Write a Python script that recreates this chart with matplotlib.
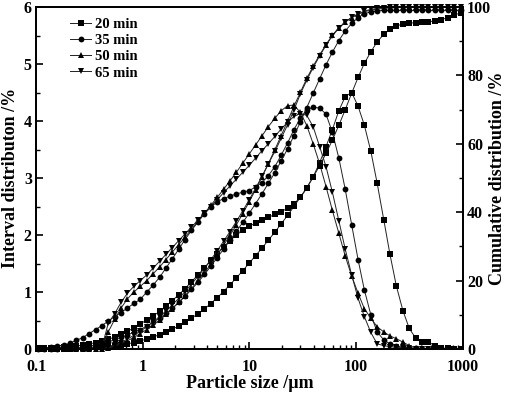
import matplotlib
matplotlib.use("Agg")
import matplotlib.pyplot as plt
from matplotlib.ticker import FixedLocator, MultipleLocator, LogLocator, NullFormatter

plt.rcParams['font.family'] = ['Liberation Serif', 'DejaVu Serif']
plt.rcParams['font.weight'] = 'bold'

# particle size classes (um)
sizes = [0.104, 0.119, 0.137, 0.157, 0.181, 0.207, 0.238, 0.274, 0.314, 0.361,
         0.414, 0.475, 0.546, 0.627, 0.719, 0.826, 0.948, 1.09, 1.25, 1.44,
         1.65, 1.89, 2.17, 2.49, 2.86, 3.29, 3.78, 4.34, 4.98, 5.71,
         6.56, 7.53, 8.65, 9.93, 11.4, 13.1, 15.0, 17.3, 19.8, 22.8,
         26.1, 30.0, 34.4, 39.5, 45.4, 52.1, 59.8, 68.7, 78.9, 90.6,
         104, 119, 137, 157, 181, 207, 238, 274, 314, 361,
         414, 475, 546, 627, 719, 826, 948]

# interval distribution (%)
int20 = [0.01, 0.01, 0.02, 0.02, 0.03, 0.04, 0.05, 0.07, 0.09, 0.11,
         0.14, 0.17, 0.21, 0.26, 0.31, 0.37, 0.44, 0.51, 0.58, 0.66,
         0.75, 0.85, 0.95, 1.06, 1.18, 1.30, 1.42, 1.55, 1.67, 1.79,
         1.90, 2.00, 2.08, 2.15, 2.21, 2.26, 2.31, 2.36, 2.41, 2.47,
         2.55, 2.66, 2.82, 3.02, 3.27, 3.55, 3.85, 4.18, 4.43, 4.50,
         4.26, 3.93, 3.47, 2.91, 2.27, 1.66, 1.10, 0.67, 0.36, 0.19,
         0.12, 0.13, 0.05, 0.02, 0.01, 0.00, 0.00]
int35 = [0.01, 0.02, 0.03, 0.05, 0.07, 0.10, 0.15, 0.20, 0.27, 0.34,
         0.41, 0.49, 0.57, 0.64, 0.72, 0.80, 0.87, 1.00, 1.12, 1.26,
         1.42, 1.58, 1.75, 1.92, 2.08, 2.23, 2.37, 2.49, 2.58, 2.64,
         2.68, 2.72, 2.75, 2.78, 2.84, 2.92, 3.04, 3.20, 3.40, 3.62,
         3.85, 4.05, 4.20, 4.24, 4.23, 4.12, 3.80, 3.35, 2.80, 2.18,
         1.57, 1.04, 0.60, 0.30, 0.16, 0.09, 0.05, 0.03, 0.02, 0.01,
         0.00, 0.00, 0.00, 0.00, 0.00, 0.00, 0.00]
int50 = [0.00, 0.00, 0.00, 0.00, 0.00, 0.00, 0.00, 0.00, 0.00, 0.00,
         0.02, 0.30, 0.52, 0.72, 0.88, 1.00, 1.10, 1.20, 1.32, 1.44,
         1.57, 1.70, 1.83, 1.96, 2.10, 2.24, 2.38, 2.52, 2.66, 2.80,
         2.95, 3.10, 3.26, 3.42, 3.58, 3.74, 3.90, 4.05, 4.18, 4.27,
         4.28, 4.15, 3.92, 3.60, 3.25, 2.85, 2.43, 2.03, 1.63, 1.28,
         0.98, 0.71, 0.54, 0.39, 0.30, 0.23, 0.18, 0.12, 0.06, 0.02,
         0.01, 0.00, 0.00, 0.00, 0.00, 0.00, 0.00]
int65 = [0.00, 0.00, 0.00, 0.00, 0.00, 0.00, 0.00, 0.00, 0.00, 0.00,
         0.03, 0.45, 0.62, 0.82, 0.98, 1.10, 1.20, 1.30, 1.42, 1.54,
         1.66, 1.78, 1.90, 2.02, 2.14, 2.26, 2.38, 2.50, 2.62, 2.74,
         2.86, 2.98, 3.10, 3.22, 3.35, 3.48, 3.60, 3.73, 3.86, 3.98,
         4.08, 4.13, 4.10, 3.90, 3.55, 3.20, 2.75, 2.25, 1.75, 1.30,
         0.89, 0.57, 0.29, 0.09, 0.06, 0.04, 0.03, 0.02, 0.01, 0.00,
         0.00, 0.00, 0.00, 0.00, 0.00, 0.00, 0.00]

# cumulative distribution (%)
cum20 = [0.0, 0.0, 0.0, 0.1, 0.1, 0.1, 0.2, 0.3, 0.3, 0.5,
         0.6, 0.8, 1.0, 1.2, 1.5, 1.9, 2.4, 2.9, 3.5, 4.2,
         4.9, 5.8, 6.7, 7.8, 9.0, 10.3, 11.7, 13.3, 15.0, 16.8,
         18.8, 20.8, 22.9, 25.1, 27.3, 29.5, 31.8, 34.2, 36.6, 39.1,
         41.7, 44.4, 47.2, 50.3, 53.6, 57.2, 61.1, 65.4, 70.0, 74.8,
         79.4, 83.5, 86.9, 89.8, 92.0, 93.5, 94.5, 95.0, 95.3, 95.4,
         95.5, 95.7, 95.9, 96.3, 96.9, 97.6, 98.3]
cum35 = [0.0, 0.0, 0.1, 0.1, 0.2, 0.3, 0.4, 0.6, 0.9, 1.2,
         1.7, 2.1, 2.7, 3.4, 4.1, 4.9, 5.7, 6.7, 7.8, 9.0,
         10.4, 11.9, 13.6, 15.4, 17.4, 19.5, 21.8, 24.2, 26.7, 29.2,
         31.8, 34.4, 37.0, 39.7, 42.5, 45.4, 48.4, 51.6, 55.0, 58.6,
         62.4, 66.4, 70.6, 74.8, 79.0, 83.1, 86.8, 90.2, 93.0, 95.2,
         96.9, 98.0, 98.6, 98.9, 99.0, 99.0, 99.0, 99.0, 99.0, 99.0,
         99.0, 99.0, 99.0, 99.0, 99.0, 99.0, 99.0]
cum50 = [0.0, 0.0, 0.0, 0.0, 0.0, 0.0, 0.0, 0.0, 0.0, 0.0,
         0.0, 0.3, 0.8, 1.6, 2.4, 3.4, 4.5, 5.7, 7.1, 8.5,
         10.1, 11.8, 13.6, 15.6, 17.7, 19.9, 22.3, 24.8, 27.5, 30.3,
         33.2, 36.3, 39.6, 43.0, 46.6, 50.3, 54.2, 58.3, 62.4, 66.7,
         71.0, 75.1, 79.1, 82.7, 86.0, 89.0, 91.8, 93.9, 95.6, 96.9,
         97.9, 98.6, 99.1, 99.4, 99.6, 99.7, 99.8, 99.9, 100.0, 100.0,
         100.0, 100.0, 100.0, 100.0, 100.0, 100.0, 100.0]
cum65 = [0.0, 0.0, 0.0, 0.0, 0.0, 0.0, 0.0, 0.0, 0.0, 0.0,
         0.0, 0.5, 1.1, 1.9, 2.9, 4.0, 5.2, 6.5, 7.9, 9.5,
         11.1, 12.9, 14.8, 16.8, 19.0, 21.2, 23.6, 26.1, 28.7, 31.5,
         34.3, 37.3, 40.4, 43.6, 47.0, 50.5, 54.1, 57.8, 61.6, 65.6,
         69.9, 74.6, 78.6, 82.3, 85.7, 88.8, 91.6, 93.8, 95.6, 97.0,
         98.0, 98.8, 99.3, 99.6, 99.8, 99.9, 100.0, 100.0, 100.0, 100.0,
         100.0, 100.0, 100.0, 100.0, 100.0, 100.0, 100.0]

labels = ['20 min', '35 min', '50 min', '65 min']
markers = ['s', 'o', '^', 'v']

fig = plt.figure(figsize=(5.05, 3.94), dpi=100)
ax = fig.add_axes([0.0713, 0.1142, 0.8455, 0.868])
ax2 = ax.twinx()

line_kw = dict(color='#222222', lw=0.7, markersize=4.2, markeredgewidth=0,
               markerfacecolor='black')
for y, m, lab in zip([int20, int35, int50, int65], markers, labels):
    ax.plot(sizes, y, marker=m, label=lab, **line_kw)
for y, m in zip([cum20, cum35, cum50, cum65], markers):
    ax2.plot(sizes, y, marker=m, clip_on=False, **line_kw)

ax.set_xscale('log')
ax.set_xlim(0.1, 1000)
ax.set_ylim(0, 6)
ax2.set_ylim(0, 100)

ax.xaxis.set_major_locator(FixedLocator([0.1, 1, 10, 100, 1000]))
ax.set_xticklabels(['0.1', '1', '10', '100', '1000'])
ax.xaxis.set_minor_locator(LogLocator(base=10, subs=range(2, 10)))
ax.xaxis.set_minor_formatter(NullFormatter())
ax.yaxis.set_major_locator(MultipleLocator(1))
ax.yaxis.set_minor_locator(MultipleLocator(0.5))
ax2.yaxis.set_major_locator(MultipleLocator(20))
ax2.yaxis.set_minor_locator(MultipleLocator(10))

for a in (ax, ax2):
    a.tick_params(which='major', direction='in', length=5, width=1.2, labelsize=11.5, pad=3)
    a.tick_params(which='minor', direction='in', length=3, width=1.0)
    for s in a.spines.values():
        s.set_linewidth(1.3)
ax.tick_params(axis='x', which='both', top=False, pad=7.5)

ax.set_xlabel('Particle size /\u00b5m', fontsize=13, fontweight='bold', labelpad=0)
ax.set_ylabel('Interval distributon /%', fontsize=13, fontweight='bold')
ax2.set_ylabel('Cumulative distribution /%', fontsize=13, fontweight='bold')
ax.yaxis.set_label_coords(-0.041, 0.5)
ax2.yaxis.set_label_coords(1.062, 0.5)

ax.legend(loc='upper left', bbox_to_anchor=(0.065, 0.985), frameon=False,
          prop={'size': 10.5, 'weight': 'bold'}, handlelength=1.5, handletextpad=0.25,
          labelspacing=0.2, borderaxespad=0)

fig.savefig('out.png', dpi=100)
